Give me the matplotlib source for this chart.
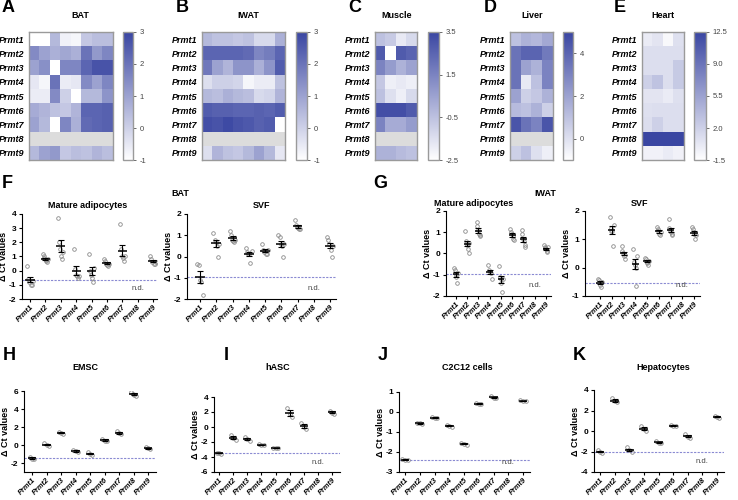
import numpy as np
import matplotlib
matplotlib.use('Agg')
import matplotlib.pyplot as plt
from matplotlib.colors import LinearSegmentedColormap

plt.rcParams['font.family'] = ['Liberation Sans', 'DejaVu Sans']

genes = ['Prmt1', 'Prmt2', 'Prmt3', 'Prmt4', 'Prmt5', 'Prmt6', 'Prmt7', 'Prmt8', 'Prmt9']
nan = np.nan

# ---------------- heatmap data (rows = genes, columns = samples) ----------------
bat_heat = [
    [-1.0, -1.0, 0.5, -0.7, -0.8, 0.2, 0.4, 0.4],
    [1.5, 1.0, 0.7, 0.9, 0.7, 2.0, 1.2, 1.6],
    [1.0, 1.4, -1.0, 1.6, 1.6, 2.3, 2.7, 2.7],
    [-0.5, -0.8, 2.0, -0.6, -0.5, 1.5, 1.0, 1.6],
    [-0.6, -0.6, 1.5, 0.0, -1.0, 0.5, 0.5, 1.3],
    [0.8, 0.6, 0.3, 0.2, 0.6, 2.3, 2.3, 2.4],
    [1.0, 0.5, -1.0, 1.6, 0.7, 2.2, 2.3, 2.4],
    [nan, nan, nan, nan, nan, nan, nan, nan],
    [0.5, 1.0, 1.2, 0.2, 0.4, 0.3, 0.6, 0.4],
]
iwat_heat = [
    [0.5, 0.3, 0.3, 0.2, 0.3, -0.2, -0.2, 0.7],
    [2.3, 2.3, 2.3, 2.3, 2.2, 1.6, 1.8, 2.3],
    [1.9, 1.0, 0.6, 1.3, 1.3, 0.7, 1.3, 2.5],
    [-0.3, 0.0, 0.0, -0.1, -0.8, -0.6, -0.6, 0.3],
    [0.5, 0.4, 0.7, 0.5, 0.4, -0.2, -0.1, 0.6],
    [2.5, 2.4, 2.4, 2.3, 2.3, 2.4, 2.3, 2.5],
    [2.8, 2.7, 2.9, 2.7, 2.6, 2.4, 2.5, -1.0],
    [nan, nan, nan, nan, nan, nan, nan, nan],
    [-0.3, 0.6, 0.3, 0.2, 0.5, 1.0, 0.5, -0.5],
]
muscle_heat = [
    [-0.5, -0.8, -1.8, -1.3],
    [2.8, -2.5, 2.8, 2.5],
    [1.5, 0.7, 0.0, 0.5],
    [-0.7, -2.0, -1.8, -2.0],
    [-0.5, -1.5, -2.0, -1.3],
    [3.2, 3.2, 3.2, 2.8],
    [1.5, 0.2, 0.2, 0.7],
    [nan, nan, nan, nan],
    [0.0, 0.0, -0.3, -0.5],
]
liver_heat = [
    [1.0, 1.5, 1.3, 1.8],
    [3.5, 4.0, 4.0, 3.3],
    [3.5, 2.0, 1.5, 3.0],
    [3.5, -0.3, 1.0, 3.0],
    [2.0, 0.5, 0.8, 1.5],
    [1.2, 1.0, 1.5, 0.5],
    [4.5, 3.5, 3.0, 4.5],
    [nan, nan, nan, nan],
    [0.5, 1.0, 0.0, -0.5],
]
heart_heat = [
    [0.0, 0.5, -1.0, 0.8],
    [1.0, 1.0, 1.0, 1.0],
    [1.0, 1.0, 1.0, 2.5],
    [2.0, 3.0, 1.0, 2.5],
    [0.5, 0.5, 0.0, 0.8],
    [0.8, 1.0, 1.0, 1.0],
    [1.0, 2.0, 1.0, 1.0],
    [12.5, 12.5, 12.5, 12.5],
    [-0.5, -0.5, 0.0, -0.5],
]

# ---------------- delta Ct data (None = not detected) ----------------
bat_ma = [[0.3, -0.6, -0.8, -1.0, -1.0, -0.7], [1.2, 1.0, 0.9, 0.8, 0.75, 0.7, 0.6, 0.85],
          [3.7, 2.0, 1.5, 1.0, 0.8, 1.3], [1.5, 0.1, -0.3, -0.4, -0.5, -0.4],
          [1.2, 0.0, -0.3, -0.5, -0.8, 0.2], [0.8, 0.7, 0.5, 0.4, 0.3, 0.5],
          [3.3, 1.5, 1.0, 0.9, 0.7, 1.0], None, [1.0, 0.8, 0.6, 0.5, 0.5, 0.6]]
bat_svf = [[-0.35, -0.4, -1.1, -1.2, -1.8], [1.1, 0.8, 0.7, 0.5, 0.0, 0.6],
           [1.2, 1.0, 0.8, 0.75, 0.7, 0.8], [0.4, 0.2, 0.1, 0.1, -0.3, 0.25],
           [0.6, 0.3, 0.2, 0.1, 0.1, 0.3], [1.0, 0.9, 0.6, 0.5, 0.0, 0.6],
           [1.7, 1.5, 1.4, 1.35, 1.3, 1.3], None, [0.9, 0.8, 0.6, 0.3, 0.0, 0.5]]
iwat_ma = [[-0.7, -0.8, -1.0, -1.1, -1.4, -0.9], [1.05, 0.6, 0.5, 0.4, 0.2, 0.0, 0.5],
           [1.5, 1.3, 1.1, 0.9, 0.8, 0.85], [-0.55, -0.8, -0.85, -0.9, -1.2],
           [-0.6, -1.1, -1.2, -1.4, -1.8, -1.2], [1.15, 1.0, 0.9, 0.8, 0.7, 0.65],
           [1.1, 0.9, 0.7, 0.6, 0.4, 0.3], None, [0.4, 0.3, 0.25, 0.2, 0.1, 0.05, 0.3]]
iwat_svf = [[-0.4, -0.45, -0.6, -0.7, -0.5], [1.8, 1.4, 1.3, 1.3, 0.75, 1.5],
            [0.75, 0.6, 0.5, 0.4, 0.3, 0.45], [0.65, 0.2, 0.1, 0.0, -0.65, 0.4],
            [0.35, 0.3, 0.2, 0.15, 0.1, 0.25], [1.45, 1.35, 1.3, 1.2, 1.15, 1.25],
            [1.7, 1.4, 1.3, 1.25, 1.15, 1.2], None, [1.45, 1.35, 1.25, 1.2, 1.0, 1.15]]
emsc = [[-1.3, -1.5, -1.6], [0.2, 0.0, -0.1], [1.5, 1.35, 1.25], [-0.55, -0.7, -0.8],
        [-0.8, -1.0, -1.1], [0.7, 0.5, 0.4], [1.55, 1.35, 1.2], [5.9, 5.7, 5.6, 5.45],
        [-0.25, -0.35, -0.45]]
hasc = [[-3.4, -3.5, -3.55], [-1.1, -1.4, -1.7], [-1.3, -1.6, -1.8], [-2.3, -2.4, -2.45],
        [-2.75, -2.8, -2.85], [2.6, 1.8, 1.3], [0.6, 0.0, -0.3], None, [2.2, 1.9, 1.8]]
c2c12 = [[-2.37, -2.4, -2.38], [-0.55, -0.57, -0.58], [-0.26, -0.28, -0.3],
         [-0.65, -0.7, -0.74], [-1.55, -1.6, -1.63], [0.45, 0.42, 0.4],
         [0.8, 0.7, 0.68], None, [0.58, 0.56, 0.54]]
hepato = [[-1.9, -2.0, -2.1], [3.2, 2.9, 2.8], [-1.6, -1.9, -2.0], [0.5, 0.2, 0.0],
          [-1.0, -1.15, -1.2], [0.6, 0.5, 0.45], [-0.3, -0.55, -0.7], None, [1.5, 1.35, 1.3]]

W, H = 738, 500
fig = plt.figure(figsize=(W / 100, H / 100), dpi=100)


def add_ax(x0, y0, x1, y1):
    return fig.add_axes([x0 / W, 1 - y1 / H, (x1 - x0) / W, (y1 - y0) / H])


def ftext(x, y, s, **kw):
    fig.text(x / W, 1 - y / H, s, **kw)


cmap = LinearSegmentedColormap.from_list('wb', ['#ffffff', '#3a46a2'])
cmap.set_bad('#dcdcdc')


def heatmap(data, x0, x1, cx0, cx1, vmin, vmax, ticks, ticklabels, title, tx):
    ax = add_ax(x0, 32, x1, 160)
    arr = np.array(data, dtype=float)
    im = ax.imshow(arr, cmap=cmap, vmin=vmin, vmax=vmax, aspect='auto',
                   interpolation='nearest')
    ax.set_xticks([])
    ax.set_yticks(range(len(genes)))
    ax.set_yticklabels(genes, fontsize=6.5, fontweight='bold', fontstyle='italic')
    ax.tick_params(axis='y', length=0, pad=3)
    for s in ax.spines.values():
        s.set_color('#9a9a9a')
        s.set_linewidth(1.0)
    cax = add_ax(cx0, 32, cx1, 160)
    cb = fig.colorbar(im, cax=cax, ticks=ticks)
    cb.ax.set_yticklabels(ticklabels, fontsize=5.5, color='#444444')
    cb.outline.set_edgecolor('#9a9a9a')
    cb.outline.set_linewidth(1.0)
    cb.ax.tick_params(length=2, width=0.6, pad=3, color='#555555')
    ftext(tx, 16, title, ha='center', va='center', fontsize=6.5, fontweight='bold')


heatmap(bat_heat, 29, 113, 123, 133, -1, 3, [-1, 0, 1, 2, 3], ['-1', '0', '1', '2', '3'], 'BAT', 80)
heatmap(iwat_heat, 202, 285, 296, 307, -1, 3, [-1, 0, 1, 2, 3], ['-1', '0', '1', '2', '3'], 'IWAT', 248)
heatmap(muscle_heat, 375, 417, 428, 439, -2.5, 3.5, [-2.5, -0.5, 1.5, 3.5], ['-2.5', '-0.5', '1.5', '3.5'], 'Muscle', 397)
heatmap(liver_heat, 510, 553, 563, 573, -1, 5, [0, 2, 4], ['0', '2', '4'], 'Liver', 532)
heatmap(heart_heat, 642, 684, 694, 706, -1.5, 12.5, [-1.5, 2.0, 5.5, 9.0, 12.5],
        ['-1.5', '2.0', '5.5', '9.0', '12.5'], 'Heart', 663)

# panel letters
for lab, x, y in [('A', 2, 8), ('B', 176, 8), ('C', 348, 8), ('D', 484, 8), ('E', 614, 8),
                  ('F', 2, 184), ('G', 373, 184), ('H', 3, 355), ('I', 224, 355),
                  ('J', 378, 355), ('K', 573, 355)]:
    ftext(x, y, lab, ha='left', va='center', fontsize=13, fontweight='bold')


def dotpanel(geom, y0, y1, data, ylim, yticks, nd=True):
    # geom: (spine x, first category x, last category x, right end x) in pixels
    sx, p1, p9, rx = geom
    step = (p9 - p1) / 8.0
    ax = add_ax(sx, y0, rx, y1)
    for i, vals in enumerate(data):
        if vals is None:
            continue
        v = np.array(vals, dtype=float)
        n = len(v)
        offs = np.linspace(-0.17, 0.17, n)
        ax.plot(i + offs, v, 'o', mfc='none', mec='#8a8a8a', ms=2.6, mew=0.6, zorder=2)
        m = v.mean()
        se = v.std(ddof=1) / np.sqrt(n)
        ax.plot([i - 0.3, i + 0.3], [m, m], color='k', lw=1.1, zorder=3, solid_capstyle='butt')
        ax.errorbar(i, m, yerr=se, color='k', lw=0.8, capsize=2.3, capthick=0.8, zorder=3)
    ref = np.mean(data[0])
    ax.axhline(ref, ls=(0, (2, 1.2)), color='#8a8ad2', lw=0.8, zorder=1)
    if nd:
        ax.text(7, ylim[0] + 0.08 * (ylim[1] - ylim[0]), 'n.d.', ha='center', va='bottom',
                fontsize=5.5, color='#444444')
    ax.set_xlim(-(p1 - sx) / step, 8 + (rx - p9) / step)
    ax.set_ylim(*ylim)
    ax.set_yticks(yticks)
    ax.set_yticklabels([f'{t:g}' for t in yticks], fontsize=6, fontweight='bold')
    ax.set_xticks(range(len(genes)))
    ax.set_xticklabels(genes, fontsize=5.4, fontweight='bold', fontstyle='italic', rotation=45,
                       ha='right', rotation_mode='anchor')
    ax.tick_params(length=2.5, width=0.8, pad=1.5)
    ax.tick_params(axis='x', pad=1)
    for s in ['top', 'right']:
        ax.spines[s].set_visible(False)
    for s in ['left', 'bottom']:
        ax.spines[s].set_linewidth(0.8)
    ax.set_ylabel('Δ Ct values', fontsize=6.5, fontweight='bold', labelpad=1)
    return ax


dotpanel((22, 30, 153, 157), 214, 299, bat_ma, (-2, 4), [-2, -1, 0, 1, 2, 3, 4])
dotpanel((187, 200, 330, 336), 214, 299, bat_svf, (-2, 2), [-2, -1, 0, 1, 2])
dotpanel((446, 456, 546, 551), 211, 296, iwat_ma, (-2, 2), [-2, -1, 0, 1, 2])
dotpanel((585, 600, 694, 700), 211, 296, iwat_svf, (-1, 2), [-1, 0, 1, 2])
for t, x, y in [('Mature adipocytes', 88, 206), ('SVF', 262, 206),
                ('Mature adipocytes', 474, 203), ('SVF', 640, 203)]:
    ftext(x, y, t, ha='center', va='center', fontsize=6.5, fontweight='bold')
ftext(180, 193, 'BAT', ha='center', va='center', fontsize=6.5, fontweight='bold')
ftext(545, 193, 'IWAT', ha='center', va='center', fontsize=6.5, fontweight='bold')

dotpanel((24, 32, 148, 156), 391, 472, emsc, (-3, 6), [-2, 0, 2, 4, 6], nd=False)
dotpanel((214, 219, 332, 340), 397, 472, hasc, (-6, 4), [-6, -4, -2, 0, 2, 4])
dotpanel((399, 405, 523, 530), 392, 472, c2c12, (-3, 1), [-3, -2, -1, 0, 1])
dotpanel((594, 600, 717, 724), 390, 472, hepato, (-4, 4), [-4, -2, 0, 2, 4])
for t, x in [('EMSC', 85), ('hASC', 278), ('C2C12 cells', 467), ('Hepatocytes', 663)]:
    ftext(x, 368, t, ha='center', va='center', fontsize=6.5, fontweight='bold')

fig.savefig('out.png', dpi=100)
